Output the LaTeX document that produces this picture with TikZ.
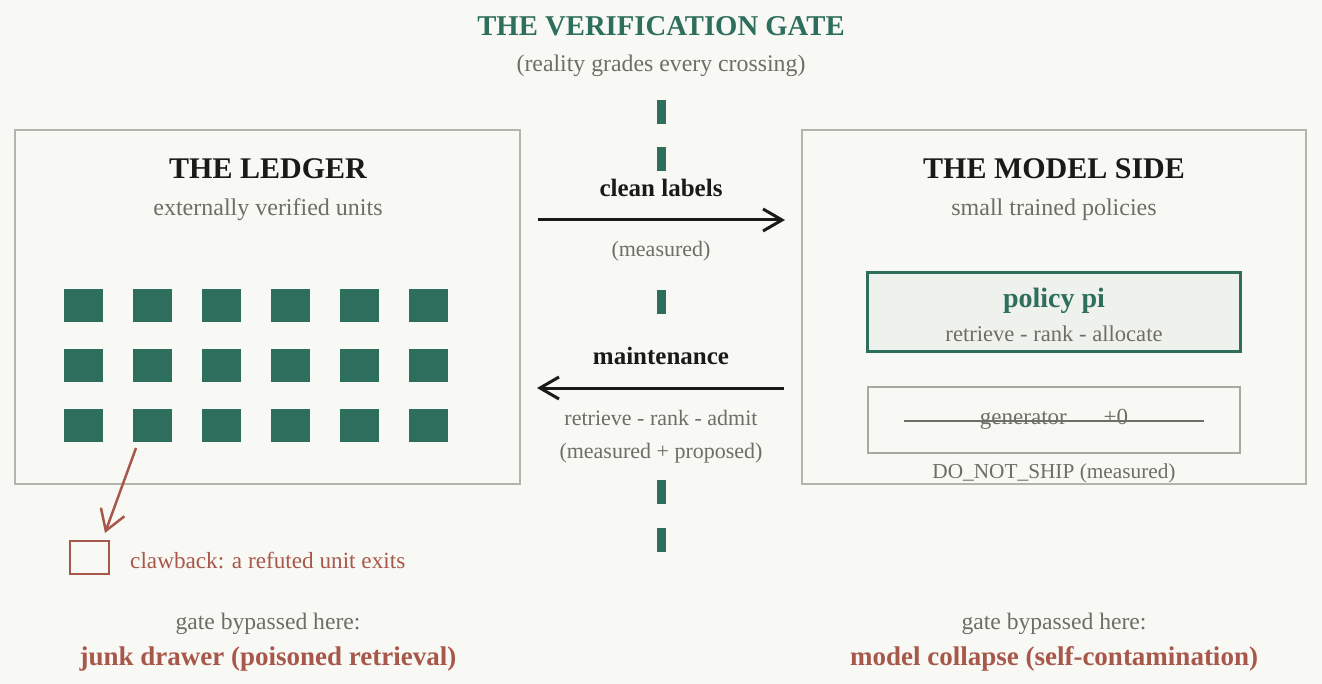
\documentclass[tikz,border=0pt]{standalone}
\usepackage{fontspec}
\setmainfont{Liberation Serif}
\usetikzlibrary{arrows.meta}
\definecolor{bgc}{HTML}{F8F8F4}
\definecolor{gate}{HTML}{2D6E5C}
\definecolor{ink}{HTML}{1A1A1A}
\definecolor{mute}{HTML}{6E6E66}
\definecolor{frame}{HTML}{B4B4AC}
\definecolor{warn}{HTML}{A8584A}
\definecolor{polfill}{HTML}{EFF1EC}
\definecolor{genframe}{HTML}{A8A8A0}
\newcommand{\fs}[1]{\fontsize{#1pt}{#1pt}\selectfont}
\tikzset{
  panel/.style={draw=frame, line width=2pt, fill=bgc, inner sep=0pt},
  unit/.style={fill=gate, minimum width=39pt, minimum height=33pt, inner sep=0pt},
  gatedash/.style={draw=gate, line width=9pt},
  txt/.style={anchor=base, inner sep=0pt},
  flow/.style={draw=ink, line width=3pt, -{Straight Barb[length=19pt,width=22pt,line width=3pt]}},
}
\begin{document}
\begin{tikzpicture}[x=1pt,y=-1pt]
\useasboundingbox (0,0) rectangle (1322,684);
\fill[bgc] (0,0) rectangle (1322,684);

% title
\node[txt, text=gate, font=\fs{28.7}\bfseries] (title) at (661,36) {THE VERIFICATION GATE};
\node[txt, text=mute, font=\fs{23.8}] (subtitle) at (661,72) {(reality grades every crossing)};

% gate dashes
\draw[gatedash] (661,100) -- (661,124);
\draw[gatedash] (661,147.5) -- (661,171.5);
\draw[gatedash] (661,290) -- (661,314);
\draw[gatedash] (661,480) -- (661,504);
\draw[gatedash] (661,527.5) -- (661,551.5);

% panels
\node[panel, minimum width=505pt, minimum height=354pt] (ledger) at (267.5,307) {};
\node[panel, minimum width=504pt, minimum height=354pt] (model) at (1054,307) {};

\node[txt, text=ink, font=\fs{30}\bfseries] (ledgerT) at (268,179) {THE LEDGER};
\node[txt, text=mute, font=\fs{24}] (ledgerS) at (268,216) {externally verified units};
\node[txt, text=ink, font=\fs{30}\bfseries] (modelT) at (1054,179) {THE MODEL SIDE};
\node[txt, text=mute, font=\fs{24}] (modelS) at (1054,216) {small trained policies};

% units
\foreach \c in {1,...,6}{
  \foreach \r in {1,2,3}{
    \node[unit] (u\r\c) at ({83.5+69*(\c-1)},{305.5+60*(\r-1)}) {};
  }
}

% policy boxes
\node[draw=gate, line width=3pt, fill=polfill, minimum width=373pt, minimum height=79pt, inner sep=0pt] (policy) at (1053.5,312.5) {};
\node[txt, text=gate, font=\fs{28}\bfseries] (policyT) at (1054,308) {policy pi};
\node[txt, text=mute, font=\fs{22.6}] (policyS) at (1054,342) {retrieve - rank - allocate};

\node[draw=genframe, line width=2pt, minimum width=372pt, minimum height=66pt, inner sep=0pt] (gen) at (1054,420) {};
\node[txt, text=mute, font=\fs{23}] (genT) at (1054,424) {generator\hspace{1.6em}+0};
\coordinate (strikeL) at (904,421);
\coordinate (strikeR) at (1204,421);
\draw[mute, line width=2pt] (strikeL) -- (strikeR);
\node[txt, text=mute, font=\fs{21.3}] (dns) at (1054,478) {DO\_NOT\_SHIP (measured)};

% flows
\coordinate (cleanA) at (538,220);
\coordinate (cleanB) at (785,220);
\draw[flow] (cleanA) -- (cleanB);
\node[txt, text=ink, font=\fs{25}\bfseries] (cleanT) at (661,197) {clean labels};
\node[txt, text=mute, font=\fs{22}] (cleanS) at (661,257) {(measured)};

\coordinate (maintA) at (784,388);
\coordinate (maintB) at (537,388);
\draw[flow] (maintA) -- (maintB);
\node[txt, text=ink, font=\fs{25}\bfseries] (maintT) at (661,365) {maintenance};
\node[txt, text=mute, font=\fs{22}] (maintS1) at (661,425) {retrieve - rank - admit};
\node[txt, text=mute, font=\fs{22}] (maintS2) at (661,458) {(measured + proposed)};

% clawback
\node[draw=warn, line width=2.5pt, minimum width=39pt, minimum height=33pt, inner sep=0pt] (claw) at (89.5,557.5) {};
\coordinate (clawA) at (136,448);
\coordinate (clawB) at (105,533);
\draw[warn, line width=2.5pt, -{Straight Barb[length=20pt,width=25pt,line width=2.5pt]}] (clawA) -- (clawB);
\node[txt, anchor=base west, text=warn, font=\fs{23.2}] (clawT) at (130,568) {clawback: a refuted unit exits};

% bottom notes
\node[txt, text=mute, font=\fs{23.6}] (leftN) at (268,629) {gate bypassed here:};
\node[txt, text=warn, font=\fs{27}\bfseries] (leftW) at (268,665) {junk drawer (poisoned retrieval)};
\node[txt, text=mute, font=\fs{23.6}] (rightN) at (1054,629) {gate bypassed here:};
\node[txt, text=warn, font=\fs{27}\bfseries] (rightW) at (1054,665) {model collapse (self-contamination)};
\end{tikzpicture}
\end{document}
